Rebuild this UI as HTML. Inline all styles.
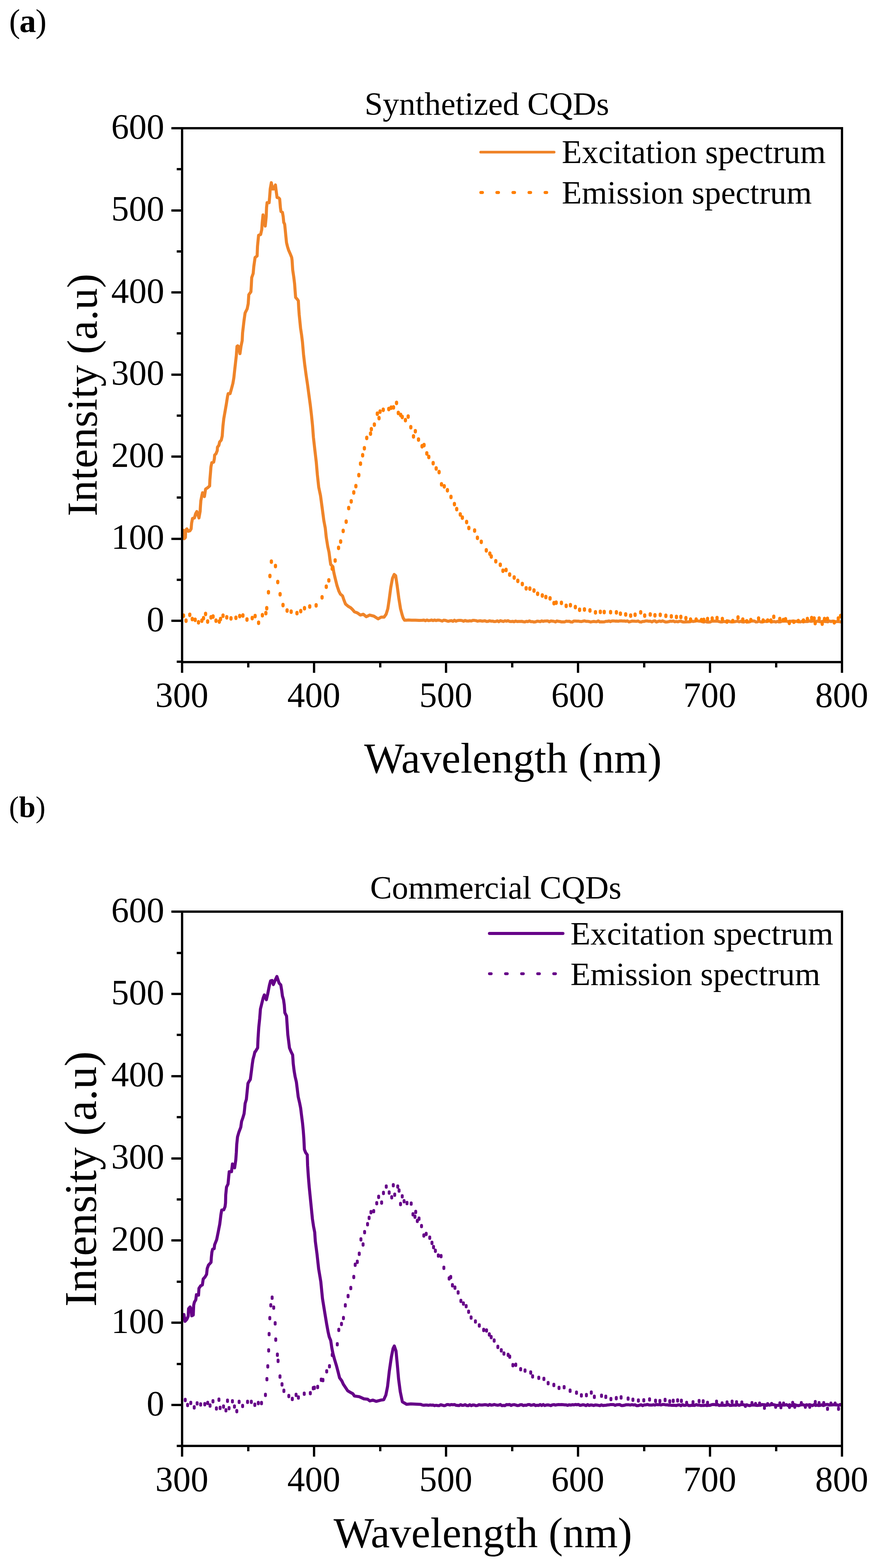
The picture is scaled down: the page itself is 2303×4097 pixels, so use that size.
<!DOCTYPE html><html><head><meta charset="utf-8"><title>CQDs spectra</title><style>html,body{margin:0;padding:0;background:#fff}svg{display:block}text{font-family:'Liberation Serif','Times New Roman',serif}</style></head><body>
<svg width="2303" height="4097" viewBox="0 0 2303 4097">
<rect width="2303" height="4097" fill="#fff"/>
<g shape-rendering="crispEdges">
<rect x="476" y="335" width="1725" height="1395" fill="none" stroke="#000" stroke-width="6"/>
<line x1="462" y1="1729.2" x2="476" y2="1729.2" stroke="#000" stroke-width="6"/>
<line x1="448" y1="1622.0" x2="476" y2="1622.0" stroke="#000" stroke-width="6"/>
<text x="429.5" y="1648.6" font-size="92.5" text-anchor="end">0</text>
<line x1="462" y1="1514.8" x2="476" y2="1514.8" stroke="#000" stroke-width="6"/>
<line x1="448" y1="1407.5" x2="476" y2="1407.5" stroke="#000" stroke-width="6"/>
<text x="429.5" y="1434.1" font-size="92.5" text-anchor="end">100</text>
<line x1="462" y1="1300.2" x2="476" y2="1300.2" stroke="#000" stroke-width="6"/>
<line x1="448" y1="1193.0" x2="476" y2="1193.0" stroke="#000" stroke-width="6"/>
<text x="429.5" y="1219.6" font-size="92.5" text-anchor="end">200</text>
<line x1="462" y1="1085.8" x2="476" y2="1085.8" stroke="#000" stroke-width="6"/>
<line x1="448" y1="978.5" x2="476" y2="978.5" stroke="#000" stroke-width="6"/>
<text x="429.5" y="1005.1" font-size="92.5" text-anchor="end">300</text>
<line x1="462" y1="871.2" x2="476" y2="871.2" stroke="#000" stroke-width="6"/>
<line x1="448" y1="764.0" x2="476" y2="764.0" stroke="#000" stroke-width="6"/>
<text x="429.5" y="790.6" font-size="92.5" text-anchor="end">400</text>
<line x1="462" y1="656.8" x2="476" y2="656.8" stroke="#000" stroke-width="6"/>
<line x1="448" y1="549.5" x2="476" y2="549.5" stroke="#000" stroke-width="6"/>
<text x="429.5" y="576.1" font-size="92.5" text-anchor="end">500</text>
<line x1="462" y1="442.2" x2="476" y2="442.2" stroke="#000" stroke-width="6"/>
<line x1="448" y1="335.0" x2="476" y2="335.0" stroke="#000" stroke-width="6"/>
<text x="429.5" y="361.6" font-size="92.5" text-anchor="end">600</text>
<line x1="476.0" y1="1730" x2="476.0" y2="1758" stroke="#000" stroke-width="6"/>
<text x="475.3" y="1847" font-size="92.5" text-anchor="middle">300</text>
<line x1="648.5" y1="1730" x2="648.5" y2="1744" stroke="#000" stroke-width="6"/>
<line x1="821.0" y1="1730" x2="821.0" y2="1758" stroke="#000" stroke-width="6"/>
<text x="820.3" y="1847" font-size="92.5" text-anchor="middle">400</text>
<line x1="993.5" y1="1730" x2="993.5" y2="1744" stroke="#000" stroke-width="6"/>
<line x1="1166.0" y1="1730" x2="1166.0" y2="1758" stroke="#000" stroke-width="6"/>
<text x="1165.3" y="1847" font-size="92.5" text-anchor="middle">500</text>
<line x1="1338.5" y1="1730" x2="1338.5" y2="1744" stroke="#000" stroke-width="6"/>
<line x1="1511.0" y1="1730" x2="1511.0" y2="1758" stroke="#000" stroke-width="6"/>
<text x="1510.3" y="1847" font-size="92.5" text-anchor="middle">600</text>
<line x1="1683.5" y1="1730" x2="1683.5" y2="1744" stroke="#000" stroke-width="6"/>
<line x1="1856.0" y1="1730" x2="1856.0" y2="1758" stroke="#000" stroke-width="6"/>
<text x="1855.3" y="1847" font-size="92.5" text-anchor="middle">700</text>
<line x1="2028.5" y1="1730" x2="2028.5" y2="1744" stroke="#000" stroke-width="6"/>
<line x1="2201.0" y1="1730" x2="2201.0" y2="1758" stroke="#000" stroke-width="6"/>
<text x="2200.3" y="1847" font-size="92.5" text-anchor="middle">800</text>
</g>
<g shape-rendering="crispEdges">
<rect x="476" y="2382" width="1725" height="1396" fill="none" stroke="#000" stroke-width="6"/>
<line x1="462" y1="3778.4" x2="476" y2="3778.4" stroke="#000" stroke-width="6"/>
<line x1="448" y1="3671.0" x2="476" y2="3671.0" stroke="#000" stroke-width="6"/>
<text x="429.5" y="3697.6" font-size="92.5" text-anchor="end">0</text>
<line x1="462" y1="3563.6" x2="476" y2="3563.6" stroke="#000" stroke-width="6"/>
<line x1="448" y1="3456.2" x2="476" y2="3456.2" stroke="#000" stroke-width="6"/>
<text x="429.5" y="3482.8" font-size="92.5" text-anchor="end">100</text>
<line x1="462" y1="3348.8" x2="476" y2="3348.8" stroke="#000" stroke-width="6"/>
<line x1="448" y1="3241.4" x2="476" y2="3241.4" stroke="#000" stroke-width="6"/>
<text x="429.5" y="3268.0" font-size="92.5" text-anchor="end">200</text>
<line x1="462" y1="3134.0" x2="476" y2="3134.0" stroke="#000" stroke-width="6"/>
<line x1="448" y1="3026.6" x2="476" y2="3026.6" stroke="#000" stroke-width="6"/>
<text x="429.5" y="3053.2" font-size="92.5" text-anchor="end">300</text>
<line x1="462" y1="2919.2" x2="476" y2="2919.2" stroke="#000" stroke-width="6"/>
<line x1="448" y1="2811.8" x2="476" y2="2811.8" stroke="#000" stroke-width="6"/>
<text x="429.5" y="2838.4" font-size="92.5" text-anchor="end">400</text>
<line x1="462" y1="2704.4" x2="476" y2="2704.4" stroke="#000" stroke-width="6"/>
<line x1="448" y1="2597.0" x2="476" y2="2597.0" stroke="#000" stroke-width="6"/>
<text x="429.5" y="2623.6" font-size="92.5" text-anchor="end">500</text>
<line x1="462" y1="2489.6" x2="476" y2="2489.6" stroke="#000" stroke-width="6"/>
<line x1="448" y1="2382.2" x2="476" y2="2382.2" stroke="#000" stroke-width="6"/>
<text x="429.5" y="2408.8" font-size="92.5" text-anchor="end">600</text>
<line x1="476.0" y1="3778" x2="476.0" y2="3806" stroke="#000" stroke-width="6"/>
<text x="475.3" y="3896" font-size="92.5" text-anchor="middle">300</text>
<line x1="648.5" y1="3778" x2="648.5" y2="3792" stroke="#000" stroke-width="6"/>
<line x1="821.0" y1="3778" x2="821.0" y2="3806" stroke="#000" stroke-width="6"/>
<text x="820.3" y="3896" font-size="92.5" text-anchor="middle">400</text>
<line x1="993.5" y1="3778" x2="993.5" y2="3792" stroke="#000" stroke-width="6"/>
<line x1="1166.0" y1="3778" x2="1166.0" y2="3806" stroke="#000" stroke-width="6"/>
<text x="1165.3" y="3896" font-size="92.5" text-anchor="middle">500</text>
<line x1="1338.5" y1="3778" x2="1338.5" y2="3792" stroke="#000" stroke-width="6"/>
<line x1="1511.0" y1="3778" x2="1511.0" y2="3806" stroke="#000" stroke-width="6"/>
<text x="1510.3" y="3896" font-size="92.5" text-anchor="middle">600</text>
<line x1="1683.5" y1="3778" x2="1683.5" y2="3792" stroke="#000" stroke-width="6"/>
<line x1="1856.0" y1="3778" x2="1856.0" y2="3806" stroke="#000" stroke-width="6"/>
<text x="1855.3" y="3896" font-size="92.5" text-anchor="middle">700</text>
<line x1="2028.5" y1="3778" x2="2028.5" y2="3792" stroke="#000" stroke-width="6"/>
<line x1="2201.0" y1="3778" x2="2201.0" y2="3806" stroke="#000" stroke-width="6"/>
<text x="2200.3" y="3896" font-size="92.5" text-anchor="middle">800</text>
</g>
<text x="23.8" y="84" font-size="87">(<tspan font-weight="bold" dx="-2">a</tspan><tspan dx="-1.5">)</tspan></text>
<text x="23.6" y="2135" font-size="78">(<tspan font-weight="bold">b</tspan>)</text>
<text x="952.9" y="300.0" font-size="85.6">Synthetized CQDs</text>
<text x="967.5" y="2348.0" font-size="85.4">Commercial CQDs</text>
<text x="1468.5" y="426.0" font-size="86">Excitation spectrum</text>
<text x="1468.5" y="532.0" font-size="85.6">Emission spectrum</text>
<text x="1491.3" y="2468.0" font-size="85.6">Excitation spectrum</text>
<text x="1491.3" y="2573.5" font-size="85.5">Emission spectrum</text>
<text x="951.9" y="2019.0" font-size="112">Wavelength (nm)</text>
<text x="871.9" y="4043.0" font-size="112.4">Wavelength (nm)</text>
<text transform="translate(253,1345) rotate(-90)" x="-4.1" y="0" font-size="113">Intensity (a.u)</text>
<text transform="translate(251,3410) rotate(-90)" x="-4.3" y="0" font-size="119">Intensity (a.u)</text>
<line x1="1256.5" y1="397.5" x2="1448.5" y2="397.5" stroke="#EF8429" stroke-width="7" stroke-linecap="round"/>
<line x1="1257" y1="503" x2="1430" y2="503" stroke="#FF7F00" stroke-width="8" stroke-linecap="round" stroke-dasharray="4 38"/>
<line x1="1279.5" y1="2439" x2="1471.5" y2="2439" stroke="#660088" stroke-width="8" stroke-linecap="round"/>
<line x1="1279.5" y1="2544.3" x2="1452" y2="2544.3" stroke="#660088" stroke-width="7.5" stroke-linecap="round" stroke-dasharray="4.5 37.5"/>
<defs><clipPath id="ca"><rect x="479" y="338" width="1719" height="1389"/></clipPath><clipPath id="cb"><rect x="479" y="2385" width="1719" height="1390"/></clipPath></defs>
<g clip-path="url(#ca)">
<path d="M479.7,1385.7 L481.9,1407.4 L484.7,1404.3 L485.3,1385.7 L488.4,1381.9 L492.2,1388.1 L496.5,1386.9 L499.6,1381.9 L500.9,1367.0 L503.3,1354.6 L508.3,1353.3 L511.4,1342.2 L514.5,1336.6 L520.1,1353.3 L523.2,1335.9 L523.9,1323.5 L525.1,1308.0 L527.6,1295.5 L529.5,1287.5 L534.4,1297.4 L536.3,1285.0 L537.5,1277.8 L542.4,1274.7 L548.0,1269.8 L548.6,1254.2 L550.2,1235.6 L551.4,1220.1 L553.6,1208.9 L558.6,1207.6 L560.4,1198.3 L561.1,1189.0 L564.8,1185.3 L567.9,1177.2 L568.5,1168.5 L572.2,1163.5 L574.1,1154.8 L578.4,1149.9 L580.9,1139.3 L582.8,1113.3 L585.0,1093.9 L588.4,1074.5 L591.8,1055.0 L594.8,1035.6 L596.5,1028.5 L601.5,1028.5 L605.0,1016.2 L608.8,1001.7 L611.3,987.1 L613.4,967.7 L615.6,948.3 L617.8,928.8 L619.5,905.0 L621.5,903.6 L624.0,906.0 L627.3,924.0 L630.0,905.0 L633.1,890.0 L634.1,870.0 L637.9,837.4 L640.7,817.8 L646.1,807.0 L648.8,793.9 L650.4,770.0 L655.9,762.4 L657.0,745.0 L658.0,725.4 L661.8,714.6 L663.5,696.1 L665.8,680.0 L666.8,672.8 L672.1,668.9 L673.1,643.8 L675.0,624.4 L676.0,614.7 L681.3,612.8 L684.2,600.2 L685.6,580.9 L687.6,561.5 L693.4,590.6 L695.8,566.4 L696.8,542.2 L698.2,529.6 L703.5,529.6 L705.0,513.2 L706.4,493.8 L709.3,477.4 L712.2,493.8 L715.6,493.8 L720.0,483.2 L721.9,498.7 L724.3,516.1 L728.7,517.1 L731.1,520.0 L733.0,542.2 L734.5,552.8 L738.3,554.8 L740.3,566.4 L741.7,580.9 L744.1,585.7 L745.6,600.2 L747.5,619.6 L749.0,634.1 L751.4,643.8 L754.3,653.4 L758.6,663.1 L762.5,672.8 L763.5,680.0 L765.2,705.7 L767.9,723.6 L770.1,741.4 L771.4,759.3 L772.8,777.1 L776.8,781.6 L779.9,786.1 L780.8,803.9 L782.1,821.8 L783.9,839.6 L785.7,857.5 L788.4,875.4 L790.6,893.2 L793.4,925.7 L796.5,952.5 L800.1,979.3 L804.1,1006.1 L807.7,1032.9 L811.3,1059.6 L814.4,1086.4 L817.1,1113.2 L819.3,1142.6 L823.0,1175.2 L826.8,1207.8 L829.6,1240.4 L833.2,1273.0 L837.8,1294.8 L842.2,1327.4 L846.5,1360.0 L850.3,1380.0 L852.9,1404.2 L856.8,1428.4 L860.1,1442.9 L862.6,1462.2 L864.5,1474.8 L870.3,1480.6 L872.7,1496.0 L876.1,1510.6 L880.9,1529.9 L885.8,1544.4 L889.6,1552.1 L895.4,1557.0 L899.3,1568.6 L903.2,1578.3 L909.9,1584.1 L916.7,1587.9 L922.5,1593.7 L926.4,1598.6 L934.3,1601.5 L942.0,1607.1 L949.7,1604.9 L957.5,1611.5 L966.3,1607.1 L977.3,1609.8 L988.4,1617.0 L996.1,1612.6 L1003.9,1612.6 L1009.4,1604.9 L1013.8,1590.5 L1017.1,1568.4 L1021.5,1535.2 L1026.0,1510.9 L1030.4,1501.0 L1034.3,1504.3 L1038.1,1529.7 L1042.5,1562.9 L1047.0,1590.5 L1051.4,1607.1 L1054.0,1615.0 L1057.5,1620.5 L1062.0,1620.5 L1068.0,1620.0 L1076.0,1620.5 L1086.0,1620.5 L1096.0,1621.0 L1104.0,1620.8 L1108.0,1620.2 L1112.0,1621.9 L1116.0,1620.1 L1120.0,1621.6 L1124.0,1621.1 L1128.0,1620.1 L1132.0,1621.6 L1136.0,1620.1 L1140.0,1621.4 L1144.0,1620.3 L1148.0,1620.4 L1152.0,1621.5 L1156.0,1622.8 L1160.0,1620.6 L1164.0,1620.9 L1168.0,1622.3 L1172.0,1623.3 L1176.0,1622.2 L1180.0,1621.6 L1184.0,1623.5 L1188.0,1620.6 L1192.0,1623.2 L1196.0,1621.4 L1200.0,1621.0 L1204.0,1620.9 L1208.0,1621.6 L1212.0,1623.2 L1216.0,1621.2 L1220.0,1622.6 L1224.0,1622.8 L1228.0,1622.0 L1232.0,1622.6 L1236.0,1621.0 L1240.0,1621.1 L1244.0,1621.6 L1248.0,1623.1 L1252.0,1622.3 L1256.0,1622.0 L1260.0,1622.9 L1264.0,1622.5 L1268.0,1622.1 L1272.0,1623.7 L1276.0,1623.4 L1280.0,1622.0 L1284.0,1623.1 L1288.0,1622.9 L1292.0,1624.1 L1296.0,1623.7 L1300.0,1622.3 L1304.0,1624.5 L1308.0,1621.8 L1312.0,1622.8 L1316.0,1623.9 L1320.0,1622.0 L1324.0,1623.1 L1328.0,1621.7 L1332.0,1623.8 L1336.0,1624.1 L1340.0,1623.5 L1344.0,1624.5 L1348.0,1622.8 L1352.0,1624.0 L1356.0,1623.7 L1360.0,1623.7 L1364.0,1623.4 L1368.0,1624.6 L1372.0,1625.0 L1376.0,1623.5 L1380.0,1624.2 L1384.0,1622.3 L1388.0,1624.3 L1392.0,1624.2 L1396.0,1625.3 L1400.0,1624.8 L1404.0,1623.1 L1408.0,1623.4 L1412.0,1624.3 L1416.0,1622.3 L1420.0,1623.7 L1424.0,1622.7 L1428.0,1622.6 L1432.0,1622.4 L1436.0,1624.7 L1440.0,1622.6 L1444.0,1623.0 L1448.0,1623.5 L1452.0,1625.0 L1456.0,1622.5 L1460.0,1623.6 L1464.0,1624.0 L1468.0,1625.0 L1472.0,1624.8 L1476.0,1625.0 L1480.0,1623.1 L1484.0,1623.5 L1488.0,1623.3 L1492.0,1625.0 L1496.0,1625.3 L1500.0,1622.7 L1504.0,1622.8 L1508.0,1622.9 L1512.0,1622.9 L1516.0,1623.8 L1520.0,1624.1 L1524.0,1623.0 L1528.0,1622.2 L1532.0,1623.5 L1536.0,1623.4 L1540.0,1624.0 L1544.0,1625.2 L1548.0,1624.4 L1552.0,1623.8 L1556.0,1624.2 L1560.0,1624.4 L1564.0,1622.4 L1568.0,1625.1 L1572.0,1624.7 L1576.0,1625.0 L1580.0,1624.8 L1584.0,1623.5 L1588.0,1623.5 L1592.0,1622.5 L1596.0,1624.2 L1600.0,1622.4 L1604.0,1622.4 L1608.0,1622.9 L1612.0,1622.7 L1616.0,1623.3 L1620.0,1622.4 L1624.0,1622.2 L1628.0,1622.7 L1632.0,1622.5 L1636.0,1623.4 L1640.0,1622.3 L1644.0,1625.0 L1648.0,1624.2 L1652.0,1622.7 L1656.0,1623.0 L1660.0,1623.3 L1664.0,1623.4 L1668.0,1622.6 L1672.0,1624.9 L1676.0,1625.4 L1680.0,1623.7 L1684.0,1623.7 L1688.0,1622.5 L1692.0,1622.5 L1696.0,1623.3 L1700.0,1623.0 L1704.0,1624.9 L1708.0,1622.7 L1712.0,1622.3 L1716.0,1625.2 L1720.0,1623.9 L1724.0,1622.7 L1728.0,1623.9 L1732.0,1622.3 L1736.0,1623.9 L1740.0,1625.3 L1744.0,1625.0 L1748.0,1624.4 L1752.0,1623.0 L1756.0,1623.4 L1760.0,1622.7 L1764.0,1624.7 L1768.0,1623.9 L1772.0,1624.7 L1776.0,1623.3 L1780.0,1622.9 L1784.0,1624.8 L1788.0,1625.4 L1792.0,1624.9 L1796.0,1624.8 L1800.0,1624.8 L1804.0,1624.6 L1808.0,1622.9 L1812.0,1623.9 L1816.0,1623.3 L1820.0,1622.3 L1824.0,1622.3 L1828.0,1623.1 L1832.0,1623.0 L1836.0,1624.4 L1840.0,1625.3 L1844.0,1623.6 L1848.0,1625.2 L1852.0,1625.4 L1856.0,1625.3 L1860.0,1623.4 L1864.0,1622.9 L1868.0,1622.9 L1872.0,1622.8 L1876.0,1622.9 L1880.0,1624.2 L1884.0,1625.1 L1888.0,1624.9 L1892.0,1623.7 L1896.0,1624.3 L1900.0,1624.8 L1904.0,1622.5 L1908.0,1624.3 L1912.0,1625.1 L1916.0,1624.7 L1920.0,1624.6 L1924.0,1623.7 L1928.0,1622.8 L1932.0,1624.7 L1936.0,1623.3 L1940.0,1624.8 L1944.0,1625.3 L1948.0,1623.5 L1952.0,1623.5 L1956.0,1625.2 L1960.0,1624.5 L1964.0,1622.7 L1968.0,1622.6 L1972.0,1622.7 L1976.0,1625.1 L1980.0,1624.8 L1984.0,1622.7 L1988.0,1624.8 L1992.0,1625.3 L1996.0,1624.3 L2000.0,1623.3 L2004.0,1624.0 L2008.0,1622.6 L2012.0,1622.2 L2016.0,1625.3 L2020.0,1624.3 L2024.0,1623.9 L2028.0,1625.2 L2032.0,1623.6 L2036.0,1625.0 L2040.0,1624.8 L2044.0,1622.9 L2048.0,1623.0 L2052.0,1623.1 L2056.0,1623.0 L2060.0,1624.1 L2064.0,1623.0 L2068.0,1623.5 L2072.0,1622.6 L2076.0,1625.1 L2080.0,1623.3 L2084.0,1623.7 L2088.0,1624.1 L2092.0,1625.1 L2096.0,1623.5 L2100.0,1625.1 L2104.0,1623.8 L2108.0,1623.9 L2112.0,1623.9 L2116.0,1622.3 L2120.0,1623.6 L2124.0,1622.8 L2128.0,1622.2 L2132.0,1624.8 L2136.0,1622.8 L2140.0,1623.7 L2144.0,1624.5 L2148.0,1624.0 L2152.0,1623.2 L2156.0,1623.9 L2160.0,1624.0 L2164.0,1624.7 L2168.0,1622.5 L2172.0,1624.0 L2176.0,1623.0 L2180.0,1623.1 L2184.0,1624.7 L2188.0,1623.8 L2192.0,1624.0 L2196.0,1624.6 L2200.0,1625.1" fill="none" stroke="#EF8429" stroke-width="8" stroke-linejoin="round" stroke-linecap="round"/>
<path d="M479.8,1606.9v3.6M486.3,1619.9v3.6M496.1,1604.7v3.6M502.6,1615.6v3.6M510.2,1617.8v3.6M518.9,1624.3v3.6M527.6,1619.9v3.6M532.0,1613.4v3.6M537.4,1602.5v3.6M542.8,1622.1v3.6M551.5,1611.2v3.6M557.0,1609.1v3.6M564.6,1619.9v3.6M573.3,1622.1v3.6M576.5,1615.6v3.6M583.0,1606.9v3.6M592.8,1611.2v3.6M603.8,1614.0v3.6M616.7,1612.5v3.6M626.6,1607.9v3.6M635.0,1606.4v3.6M645.6,1617.0v3.6M659.3,1613.2v3.6M666.9,1607.9v3.6M676.0,1625.4v3.6M685.9,1605.6v3.6M695.0,1600.3v3.6M697.3,1587.4v3.6M701.8,1545.6v3.6M705.6,1503.1v3.6M709.4,1465.8v3.6M720.1,1477.2v3.6M726.1,1519.0v3.6M732.2,1550.9v3.6M739.8,1579.1v3.6M750.5,1593.5v3.6M761.1,1596.5v3.6M776.3,1600.3v3.6M786.2,1595.0v3.6M796.0,1587.4v3.6M809.7,1582.9v3.6M826.4,1580.0v3.6M841.9,1559.0v3.6M852.9,1531.3v3.6M859.6,1514.8v3.6M868.4,1483.8v3.6M876.1,1462.8v3.6M885.0,1429.7v3.6M890.5,1413.1v3.6M897.1,1385.5v3.6M904.9,1361.2v3.6M911.5,1325.8v3.6M918.1,1308.1v3.6M924.8,1284.9v3.6M930.3,1268.4v3.6M938.0,1239.6v3.6M942.4,1209.8v3.6M948.0,1187.7v3.6M952.5,1169.4v3.6M958.7,1142.5v3.6M968.6,1131.1v3.6M970.7,1119.7v3.6M978.6,1107.7v3.6M986.3,1079.3v3.6M990.8,1090.7v3.6M993.5,1073.7v3.6M1001.8,1069.0v3.6M1016.3,1066.9v3.6M1022.5,1063.4v3.6M1028.7,1062.7v3.6M1036.6,1050.9v3.6M1041.2,1077.2v3.6M1047.4,1082.4v3.6M1051.5,1087.6v3.6M1059.8,1095.9v3.6M1067.0,1086.6v3.6M1073.9,1114.5v3.6M1080.9,1138.4v3.6M1085.7,1124.9v3.6M1094.0,1146.6v3.6M1103.3,1164.2v3.6M1108.5,1161.2v3.6M1115.7,1182.9v3.6M1120.9,1192.2v3.6M1132.3,1208.4v3.6M1140.2,1222.3v3.6M1147.8,1231.6v3.6M1154.1,1263.7v3.6M1161.3,1268.9v3.6M1169.6,1279.2v3.6M1178.9,1296.8v3.6M1187.9,1315.5v3.6M1193.9,1328.5v3.6M1203.2,1342.4v3.6M1208.6,1350.7v3.6M1219.8,1362.1v3.6M1225.6,1377.6v3.6M1240.7,1384.5v3.6M1248.0,1403.5v3.6M1258.1,1413.9v3.6M1271.2,1436.1v3.6M1280.5,1445.0v3.6M1284.2,1452.2v3.6M1296.0,1464.7v3.6M1307.8,1474.0v3.6M1314.7,1489.5v3.6M1322.9,1487.4v3.6M1332.3,1499.5v3.6M1344.1,1507.1v3.6M1353.6,1516.0v3.6M1365.4,1524.1v3.6M1375.4,1535.5v3.6M1385.1,1536.1v3.6M1395.9,1541.3v3.6M1405.4,1549.6v3.6M1417.6,1554.2v3.6M1426.9,1558.3v3.6M1437.9,1561.6v3.6M1448.1,1574.2v3.6M1453.9,1573.0v3.6M1467.6,1573.4v3.6M1480.0,1581.2v3.6M1491.1,1579.5v3.6M1504.0,1584.5v3.6M1515.1,1591.4v3.6M1527.8,1590.6v3.6M1542.2,1593.3v3.6M1556.6,1598.3v3.6M1569.3,1596.9v3.6M1579.5,1597.5v3.6M1596.1,1597.8v3.6M1611.3,1598.3v3.6M1621.8,1601.6v3.6M1635.6,1603.8v3.6M1648.6,1606.6v3.6M1660.2,1604.4v3.6M1674.8,1598.3v3.6M1685.3,1606.6v3.6M1699.7,1603.8v3.6M1712.1,1606.0v3.6M1725.9,1604.7v3.6M1740.6,1607.2v3.6M1754.9,1608.8v3.6M1768.2,1610.2v3.6M1779.8,1610.2v3.6M1793.0,1613.5v3.6M1805.2,1617.1v3.6M1819.8,1617.1v3.6M1833.6,1618.5v3.6M1839.7,1618.0v3.6M1849.6,1615.8v3.6M1861.7,1614.4v3.6M1874.4,1613.1v3.6M1888.3,1615.8v3.6M1900.4,1622.1v3.6M1915.5,1621.0v3.6M1929.2,1611.8v3.6M1941.7,1617.1v3.6M1952.2,1621.7v3.6M1962.7,1618.4v3.6M1983.0,1614.4v3.6M1994.9,1619.7v3.6M2006.7,1619.7v3.6M2015.2,1619.7v3.6M2022.7,1609.9v3.6M2038.4,1615.8v3.6M2047.6,1618.4v3.6M2053.5,1616.4v3.6M2063.3,1625.6v3.6M2075.1,1622.6v3.6M2086.9,1621.0v3.6M2100.3,1619.7v3.6M2110.6,1615.8v3.6M2121.7,1613.1v3.6M2128.3,1614.4v3.6M2130.9,1626.3v3.6M2141.4,1614.4v3.6M2149.3,1627.6v3.6M2155.2,1615.8v3.6M2163.0,1615.1v3.6M2180.8,1624.3v3.6M2191.3,1614.4v3.6M2197.2,1607.9v3.6" fill="none" stroke="#FF7F00" stroke-width="8.4" stroke-linecap="round"/>
</g>
<g clip-path="url(#cb)">
<path d="M480.9,3434.8 L483.6,3452.5 L488.6,3447.0 L491.9,3439.2 L493.0,3419.3 L496.9,3414.9 L499.7,3421.5 L501.3,3438.1 L505.2,3435.9 L506.3,3410.5 L508.0,3402.8 L511.8,3396.1 L513.5,3382.9 L519.0,3384.0 L520.1,3366.3 L524.5,3359.7 L529.0,3357.5 L531.2,3342.0 L536.1,3336.5 L540.0,3329.8 L541.7,3314.4 L545.0,3305.5 L551.6,3298.4 L552.5,3285.2 L553.9,3272.0 L555.8,3264.1 L559.8,3262.8 L561.1,3252.2 L563.8,3245.6 L566.4,3239.0 L568.4,3229.1 L570.4,3219.2 L572.3,3209.3 L574.3,3199.4 L576.0,3186.2 L577.6,3173.0 L579.6,3161.8 L584.9,3161.1 L588.2,3153.2 L589.5,3143.3 L590.1,3122.0 L592.1,3101.8 L596.1,3093.7 L597.7,3076.6 L599.2,3061.5 L605.2,3061.5 L607.7,3041.3 L613.3,3051.4 L616.3,3031.2 L617.8,3011.0 L618.8,2990.8 L620.9,2970.6 L624.4,2958.5 L629.4,2945.4 L631.5,2930.3 L635.0,2920.2 L638.0,2910.1 L639.1,2900.6 L640.8,2883.2 L644.0,2872.7 L645.4,2858.7 L646.8,2844.7 L648.2,2830.8 L650.9,2825.9 L654.4,2820.3 L655.8,2809.8 L657.6,2795.9 L659.3,2781.9 L661.4,2767.9 L664.2,2757.5 L666.3,2748.4 L667.7,2747.6 L673.5,2737.9 L674.5,2713.8 L676.4,2684.7 L678.9,2660.6 L680.8,2636.4 L683.2,2626.7 L685.6,2617.0 L688.0,2607.4 L690.9,2599.6 L696.3,2612.2 L699.7,2597.7 L701.6,2588.0 L704.5,2573.5 L707.4,2562.9 L711.3,2561.9 L714.6,2572.6 L719.0,2561.9 L723.8,2551.3 L726.7,2560.0 L729.6,2568.7 L734.0,2573.5 L736.4,2588.0 L738.3,2602.5 L741.2,2612.2 L743.2,2626.7 L744.6,2646.1 L749.0,2654.8 L750.4,2675.1 L752.4,2704.1 L754.3,2718.6 L756.7,2737.9 L760.6,2747.6 L765.0,2756.5 L766.5,2778.8 L768.9,2798.3 L771.4,2812.8 L774.8,2827.4 L777.2,2846.8 L779.6,2866.2 L783.0,2880.8 L785.9,2895.3 L788.3,2914.8 L790.8,2934.2 L792.7,2953.6 L794.2,2973.0 L795.7,3003.3 L799.0,3011.7 L803.2,3017.3 L804.1,3045.2 L806.0,3073.2 L808.3,3101.2 L811.1,3129.1 L813.9,3157.1 L816.7,3185.0 L819.5,3203.7 L822.7,3220.0 L824.2,3242.8 L828.6,3276.0 L833.0,3315.7 L838.6,3348.9 L843.0,3393.1 L849.0,3430.0 L853.8,3459.0 L857.7,3480.3 L860.6,3492.9 L864.5,3502.5 L867.4,3521.9 L870.3,3536.4 L874.2,3550.9 L880.0,3570.2 L883.8,3584.7 L887.7,3600.2 L893.5,3608.0 L897.4,3616.7 L903.2,3625.4 L909.0,3634.1 L915.7,3637.9 L922.5,3641.8 L926.4,3647.6 L939.1,3649.4 L951.3,3655.0 L961.2,3656.1 L966.7,3660.5 L974.5,3658.3 L983.3,3661.6 L995.5,3658.3 L1003.2,3657.2 L1008.7,3645.0 L1013.1,3622.9 L1017.6,3583.1 L1023.1,3545.6 L1027.5,3523.5 L1030.8,3516.9 L1035.2,3530.1 L1038.6,3565.5 L1041.9,3603.0 L1046.3,3636.2 L1051.8,3662.7 L1062.9,3669.3 L1073.9,3668.2 L1100.0,3669.5 L1104.0,3671.1 L1108.0,3671.7 L1112.0,3671.3 L1116.0,3671.3 L1120.0,3671.9 L1124.0,3671.1 L1128.0,3671.4 L1132.0,3671.2 L1136.0,3672.7 L1140.0,3671.9 L1144.0,3672.5 L1148.0,3672.7 L1152.0,3670.5 L1156.0,3671.5 L1160.0,3672.7 L1164.0,3672.4 L1168.0,3670.1 L1172.0,3670.1 L1176.0,3671.1 L1180.0,3669.9 L1184.0,3670.5 L1188.0,3669.9 L1192.0,3671.8 L1196.0,3672.2 L1200.0,3672.6 L1204.0,3670.2 L1208.0,3672.0 L1212.0,3671.8 L1216.0,3670.2 L1220.0,3672.5 L1224.0,3672.8 L1228.0,3670.4 L1232.0,3672.7 L1236.0,3671.0 L1240.0,3671.3 L1244.0,3672.9 L1248.0,3672.4 L1252.0,3670.2 L1256.0,3671.1 L1260.0,3671.3 L1264.0,3670.8 L1268.0,3670.3 L1272.0,3670.7 L1276.0,3672.0 L1280.0,3669.8 L1284.0,3671.5 L1288.0,3671.1 L1292.0,3669.8 L1296.0,3670.8 L1300.0,3671.7 L1304.0,3671.3 L1308.0,3669.9 L1312.0,3672.9 L1316.0,3672.2 L1320.0,3672.8 L1324.0,3670.0 L1328.0,3670.5 L1332.0,3669.8 L1336.0,3672.2 L1340.0,3670.6 L1344.0,3670.1 L1348.0,3671.1 L1352.0,3672.6 L1356.0,3672.3 L1360.0,3670.5 L1364.0,3670.2 L1368.0,3672.6 L1372.0,3671.5 L1376.0,3671.9 L1380.0,3670.0 L1384.0,3669.9 L1388.0,3671.9 L1392.0,3671.1 L1396.0,3669.9 L1400.0,3672.7 L1404.0,3671.7 L1408.0,3672.3 L1412.0,3670.0 L1416.0,3672.4 L1420.0,3669.9 L1424.0,3672.5 L1428.0,3671.2 L1432.0,3670.8 L1436.0,3671.5 L1440.0,3672.7 L1444.0,3670.6 L1448.0,3670.1 L1452.0,3671.4 L1456.0,3670.5 L1460.0,3670.1 L1464.0,3670.2 L1468.0,3669.9 L1472.0,3670.3 L1476.0,3670.7 L1480.0,3670.7 L1484.0,3672.1 L1488.0,3670.6 L1492.0,3671.3 L1496.0,3670.3 L1500.0,3670.8 L1504.0,3669.8 L1508.0,3670.5 L1512.0,3669.7 L1516.0,3672.0 L1520.0,3671.5 L1524.0,3670.3 L1528.0,3671.2 L1532.0,3672.7 L1536.0,3670.0 L1540.0,3672.3 L1544.0,3671.1 L1548.0,3671.3 L1552.0,3672.4 L1556.0,3671.0 L1560.0,3671.3 L1564.0,3671.9 L1568.0,3672.8 L1572.0,3670.8 L1576.0,3672.4 L1580.0,3672.0 L1584.0,3671.7 L1588.0,3671.0 L1592.0,3670.8 L1596.0,3669.9 L1600.0,3670.1 L1604.0,3669.9 L1608.0,3672.1 L1612.0,3670.5 L1616.0,3670.2 L1620.0,3670.0 L1624.0,3672.4 L1628.0,3672.5 L1632.0,3671.8 L1636.0,3670.6 L1640.0,3670.5 L1644.0,3670.6 L1648.0,3671.2 L1652.0,3670.2 L1656.0,3671.1 L1660.0,3670.5 L1664.0,3672.8 L1668.0,3672.8 L1672.0,3671.5 L1676.0,3670.5 L1680.0,3672.8 L1684.0,3670.7 L1688.0,3670.8 L1692.0,3669.7 L1696.0,3670.9 L1700.0,3671.2 L1704.0,3671.3 L1708.0,3670.3 L1712.0,3671.3 L1716.0,3669.7 L1720.0,3670.5 L1724.0,3670.0 L1728.0,3671.0 L1732.0,3669.8 L1736.0,3669.8 L1740.0,3670.7 L1744.0,3670.4 L1748.0,3671.6 L1752.0,3671.4 L1756.0,3672.1 L1760.0,3671.8 L1764.0,3672.0 L1768.0,3672.5 L1772.0,3670.9 L1776.0,3670.7 L1780.0,3672.9 L1784.0,3670.2 L1788.0,3672.0 L1792.0,3671.8 L1796.0,3669.8 L1800.0,3672.4 L1804.0,3672.6 L1808.0,3671.7 L1812.0,3672.0 L1816.0,3672.3 L1820.0,3670.1 L1824.0,3671.4 L1828.0,3671.3 L1832.0,3672.4 L1836.0,3672.3 L1840.0,3672.3 L1844.0,3671.6 L1848.0,3672.6 L1852.0,3671.9 L1856.0,3671.9 L1860.0,3670.4 L1864.0,3669.8 L1868.0,3670.1 L1872.0,3670.9 L1876.0,3670.0 L1880.0,3672.4 L1884.0,3671.5 L1888.0,3671.7 L1892.0,3671.7 L1896.0,3671.9 L1900.0,3671.3 L1904.0,3669.7 L1908.0,3672.3 L1912.0,3672.1 L1916.0,3671.3 L1920.0,3671.4 L1924.0,3671.8 L1928.0,3669.9 L1932.0,3672.1 L1936.0,3670.5 L1940.0,3669.9 L1944.0,3670.5 L1948.0,3672.0 L1952.0,3670.4 L1956.0,3672.1 L1960.0,3672.8 L1964.0,3671.3 L1968.0,3670.9 L1972.0,3671.2 L1976.0,3671.9 L1980.0,3672.2 L1984.0,3671.7 L1988.0,3671.8 L1992.0,3669.9 L1996.0,3670.2 L2000.0,3670.5 L2004.0,3672.1 L2008.0,3670.7 L2012.0,3671.5 L2016.0,3669.7 L2020.0,3669.9 L2024.0,3670.6 L2028.0,3671.9 L2032.0,3671.9 L2036.0,3671.9 L2040.0,3670.6 L2044.0,3671.4 L2048.0,3671.2 L2052.0,3671.2 L2056.0,3670.1 L2060.0,3672.6 L2064.0,3670.3 L2068.0,3672.8 L2072.0,3672.7 L2076.0,3669.8 L2080.0,3671.2 L2084.0,3672.3 L2088.0,3672.8 L2092.0,3671.1 L2096.0,3670.6 L2100.0,3670.4 L2104.0,3672.7 L2108.0,3670.4 L2112.0,3671.6 L2116.0,3670.2 L2120.0,3671.4 L2124.0,3672.7 L2128.0,3670.1 L2132.0,3672.3 L2136.0,3671.3 L2140.0,3672.5 L2144.0,3672.0 L2148.0,3670.4 L2152.0,3672.6 L2156.0,3671.3 L2160.0,3669.8 L2164.0,3669.7 L2168.0,3671.3 L2172.0,3671.1 L2176.0,3670.7 L2180.0,3670.2 L2184.0,3670.8 L2188.0,3670.7 L2192.0,3672.4 L2196.0,3669.7 L2200.0,3672.1" fill="none" stroke="#660088" stroke-width="8" stroke-linejoin="round" stroke-linecap="round"/>
<path d="M484.2,3656.1v3.8M490.4,3669.2v3.8M498.7,3663.7v3.8M507.7,3675.4v3.8M515.3,3665.0v3.8M524.5,3667.8v3.8M535.3,3667.1v3.8M542.9,3663.7v3.8M549.1,3670.6v3.8M556.7,3659.5v3.8M565.7,3678.2v3.8M572.3,3655.4v3.8M575.4,3676.8v3.8M584.3,3673.3v3.8M590.6,3683.0v3.8M594.7,3658.1v3.8M598.8,3677.5v3.8M607.6,3659.5v3.8M612.9,3673.2v3.8M619.0,3685.3v3.8M625.1,3661.0v3.8M634.2,3671.7v3.8M647.1,3661.0v3.8M657.0,3661.0v3.8M666.1,3668.6v3.8M675.2,3664.1v3.8M683.6,3664.1v3.8M693.9,3642.8v3.8M697.7,3601.7v3.8M700.0,3568.3v3.8M702.3,3526.5v3.8M703.5,3484.0v3.8M705.3,3442.2v3.8M707.9,3408.7v3.8M711.4,3388.9v3.8M715.5,3414.8v3.8M719.3,3455.9v3.8M720.8,3498.4v3.8M725.1,3537.9v3.8M726.9,3553.9v3.8M731.9,3594.9v3.8M737.2,3615.4v3.8M742.1,3632.1v3.8M755.0,3645.8v3.8M764.1,3653.4v3.8M774.0,3642.8v3.8M780.1,3649.6v3.8M795.3,3639.7v3.8M811.2,3638.2v3.8M818.8,3625.3v3.8M821.9,3624.4v3.8M830.4,3622.1v3.8M839.7,3603.3v3.8M844.2,3604.1v3.8M854.0,3581.2v3.8M861.3,3568.0v3.8M868.4,3538.2v3.8M881.7,3510.5v3.8M885.6,3473.0v3.8M892.7,3457.5v3.8M897.8,3442.0v3.8M902.7,3408.9v3.8M909.9,3384.6v3.8M917.0,3363.6v3.8M924.8,3334.8v3.8M928.5,3302.8v3.8M934.0,3295.1v3.8M939.1,3274.1v3.8M943.5,3236.5v3.8M949.1,3249.8v3.8M953.1,3217.6v3.8M960.8,3196.9v3.8M964.9,3180.3v3.8M969.7,3165.4v3.8M976.9,3162.7v3.8M984.8,3142.0v3.8M989.8,3125.4v3.8M997.6,3140.3v3.8M1002.4,3115.1v3.8M1009.7,3098.5v3.8M1017.3,3114.1v3.8M1024.0,3126.5v3.8M1028.1,3095.0v3.8M1031.8,3119.8v3.8M1039.7,3098.5v3.8M1043.2,3108.9v3.8M1047.0,3144.1v3.8M1051.5,3124.0v3.8M1056.3,3136.8v3.8M1063.9,3141.6v3.8M1074.9,3143.0v3.8M1079.5,3171.0v3.8M1084.7,3177.2v3.8M1086.7,3164.8v3.8M1090.9,3188.2v3.8M1095.4,3182.4v3.8M1101.9,3201.7v3.8M1107.9,3226.3v3.8M1114.1,3222.2v3.8M1123.4,3232.1v3.8M1129.2,3245.6v3.8M1133.3,3256.6v3.8M1138.1,3266.3v3.8M1145.8,3278.7v3.8M1153.0,3280.2v3.8M1160.3,3310.8v3.8M1174.1,3338.5v3.8M1178.3,3335.0v3.8M1182.7,3356.4v3.8M1189.3,3362.6v3.8M1197.6,3375.1v3.8M1204.8,3397.2v3.8M1211.4,3404.1v3.8M1218.6,3411.0v3.8M1225.0,3425.5v3.8M1231.5,3440.7v3.8M1242.8,3451.0v3.8M1252.9,3461.4v3.8M1264.3,3473.1v3.8M1271.9,3474.5v3.8M1279.1,3484.9v3.8M1284.0,3491.8v3.8M1291.8,3500.8v3.8M1301.4,3517.4v3.8M1310.4,3526.4v3.8M1317.3,3534.7v3.8M1328.3,3538.2v3.8M1332.5,3543.0v3.8M1340.7,3565.1v3.8M1348.3,3564.1v3.8M1361.0,3575.7v3.8M1372.5,3579.3v3.8M1387.3,3584.4v3.8M1392.3,3594.5v3.8M1408.4,3598.2v3.8M1421.8,3601.0v3.8M1432.9,3612.1v3.8M1447.8,3616.9v3.8M1461.3,3624.5v3.8M1474.7,3622.7v3.8M1490.3,3631.9v3.8M1507.0,3637.0v3.8M1519.8,3644.1v3.8M1532.9,3643.4v3.8M1545.7,3636.7v3.8M1553.7,3647.9v3.8M1572.4,3645.0v3.8M1583.6,3647.9v3.8M1597.0,3653.7v3.8M1611.0,3651.4v3.8M1623.6,3649.4v3.8M1641.9,3652.5v3.8M1654.5,3655.5v3.8M1668.8,3657.5v3.8M1682.9,3657.0v3.8M1698.0,3654.7v3.8M1713.6,3658.4v3.8M1725.0,3659.1v3.8M1738.6,3656.1v3.8M1750.8,3659.9v3.8M1759.9,3658.4v3.8M1771.3,3657.3v3.8M1781.2,3658.4v3.8M1794.9,3663.7v3.8M1811.6,3662.2v3.8M1827.5,3659.1v3.8M1838.2,3659.9v3.8M1849.6,3663.7v3.8M1873.1,3660.7v3.8M1887.6,3665.2v3.8M1900.5,3662.9v3.8M1913.8,3660.8v3.8M1925.4,3662.4v3.8M1939.2,3663.0v3.8M1948.6,3671.2v3.8M1965.7,3664.6v3.8M1975.1,3666.8v3.8M1985.6,3665.7v3.8M1998.3,3676.2v3.8M2006.6,3667.4v3.8M2017.1,3666.8v3.8M2027.6,3673.5v3.8M2038.6,3665.2v3.8M2041.4,3674.6v3.8M2048.3,3665.7v3.8M2063.8,3674.0v3.8M2072.1,3664.1v3.8M2077.6,3673.5v3.8M2094.7,3664.6v3.8M2105.2,3673.5v3.8M2116.8,3673.5v3.8M2131.2,3661.9v3.8M2141.1,3664.6v3.8M2153.3,3664.6v3.8M2163.2,3679.0v3.8M2172.1,3665.7v3.8M2183.1,3665.7v3.8M2192.0,3679.0v3.8" fill="none" stroke="#660088" stroke-width="7.6" stroke-linecap="round"/>
</g>
</svg></body></html>
